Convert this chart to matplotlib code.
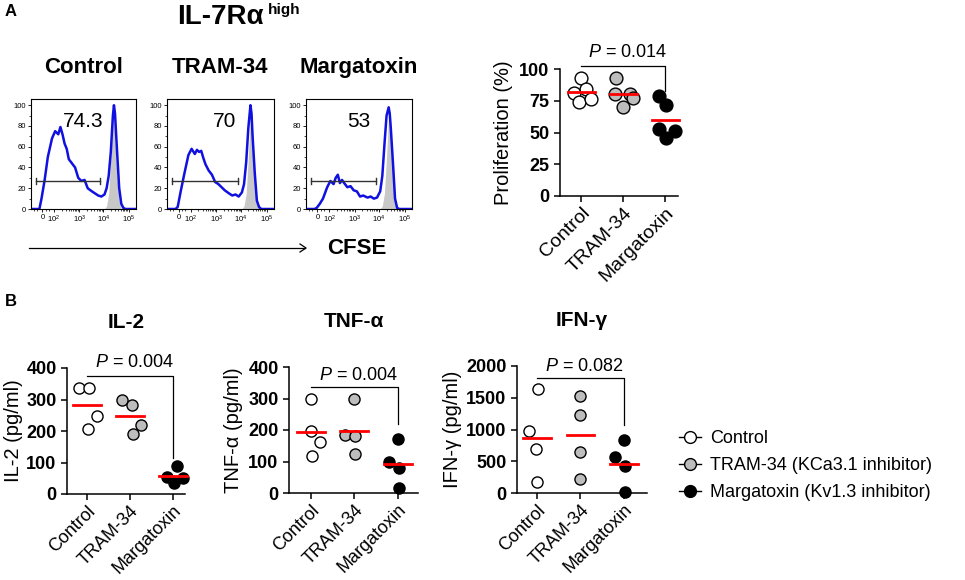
import numpy as np
import matplotlib
matplotlib.use('Agg')
from matplotlib import pyplot as plt
from matplotlib.lines import Line2D

plt.rcParams['font.family'] = ['Liberation Sans', 'DejaVu Sans']
plt.rcParams['mathtext.fontset'] = 'custom'
plt.rcParams['mathtext.rm'] = 'Liberation Sans'
plt.rcParams['mathtext.it'] = 'Liberation Sans:italic'
plt.rcParams['mathtext.bf'] = 'Liberation Sans:bold'

groups = ['Control', 'TRAM-34', 'Margatoxin']
legend_labels = ['Control', 'TRAM-34 (KCa3.1 inhibitor)', 'Margatoxin (Kv1.3 inhibitor)']
face_colors = ['white', '#bdbdbd', 'black']

# CFSE histograms: position on the display scale (0-100 across the plot), % of max
cfse_x = [0, 8, 10, 13, 16, 20, 23, 26, 28, 30, 32, 34, 36, 39, 42, 45, 48, 51, 54,
          58, 61, 64, 67, 70, 72, 74, 76, 78, 79, 80, 82, 84, 86, 88, 90, 100]
hist_control = [0, 0, 10, 28, 50, 68, 75, 72, 79, 72, 63, 58, 48, 44, 40, 30, 27, 28, 20,
                17, 15, 13, 12, 14, 20, 32, 55, 90, 100, 92, 55, 20, 5, 1, 0, 0]
hist_tram = [0, 0, 2, 18, 33, 52, 58, 53, 57, 55, 56, 49, 43, 37, 33, 26, 24, 21, 18,
             15, 13, 14, 12, 16, 24, 45, 78, 100, 92, 70, 35, 8, 2, 0, 0, 0]
hist_marga = [0, 0, 1, 5, 10, 21, 27, 24, 30, 33, 25, 28, 25, 21, 22, 18, 17, 12, 13,
              11, 12, 10, 11, 17, 32, 62, 90, 98, 92, 78, 45, 10, 1, 0, 0, 0]
hist_unstained = [0, 0, 0, 0, 0, 0, 0, 0, 0, 0, 0, 0, 0, 0, 0, 0, 0, 0, 0,
                  0, 0, 0, 0, 0, 3, 15, 50, 92, 85, 65, 30, 8, 1, 0, 0, 0]
gate_pct = ['74.3', '70', '53']
cfse_tick_labels = ['0', r'$10^2$', r'$10^3$', r'$10^4$', r'$10^5$']

# proliferation (%)
prolif_control = [93, 81, 84, 74, 76]
prolif_tram = [93, 80, 80, 70, 77]
prolif_marga = [79, 72, 53, 51, 46]

# cytokines (pg/ml)
il2_control = [336, 336, 249, 205]
il2_tram = [297, 283, 218, 189]
il2_marga = [88, 55, 35, 50]
tnf_control = [300, 198, 163, 119]
tnf_tram = [300, 185, 180, 125]
tnf_marga = [172, 100, 80, 15]
ifn_control = [1636, 971, 686, 171]
ifn_tram = [1532, 1231, 649, 223]
ifn_marga = [831, 561, 430, 10]

W, H = 965, 580
fig = plt.figure(figsize=(W / 100, H / 100), dpi=100)


def add_ax(left, top, right, bottom):
    return fig.add_axes([left / W, 1 - bottom / H, (right - left) / W, (bottom - top) / H])


def ftext(x, y, s, **kw):
    fig.text(x / W, 1 - y / H, s, **kw)


# ---- panel A: histograms
hists = [hist_control, hist_tram, hist_marga]
boxes = [(31, 136), (167, 274), (306, 412)]
minor_x = [3, 6, 14, 17]
for dec in [22, 46, 69]:
    minor_x += [dec + 23.5 * np.log10(k) for k in range(2, 10)]
for i, (l, r) in enumerate(boxes):
    ax = add_ax(l, 99, r, 209)
    ax.fill_between(cfse_x, hist_unstained, color='#c8c8c8', lw=0)
    ax.plot(cfse_x, hists[i], color='#1010e0', lw=1.8)
    ax.plot([4.5, 66], [27, 27], color='#333333', lw=1)
    ax.plot([4.5, 4.5], [24, 30], color='#333333', lw=1)
    ax.plot([66, 66], [24, 30], color='#333333', lw=1)
    ax.text(50 if i != 1 else 54, 84, gate_pct[i], ha='center', va='center', fontsize=15)
    ax.set_xlim(0, 100)
    ax.set_ylim(0, 106)
    ax.set_yticks([0, 20, 40, 60, 80, 100])
    ax.set_yticks([10, 30, 50, 70, 90], minor=True)
    ax.set_xticks([10.8, 22, 46, 69, 93])
    ax.set_xticklabels(cfse_tick_labels)
    ax.set_xticks(minor_x, minor=True)
    ax.tick_params(labelsize=5.5, length=2, width=0.6, pad=1.5)
    ax.tick_params(which='minor', length=1.2, width=0.5)
    for s in ax.spines.values():
        s.set_linewidth(0.8)
    ax.set_title(groups[i], fontsize=16, fontweight='bold', pad=19)

ftext(5, 12, 'A', fontsize=12, fontweight='bold', va='center')
ftext(177, 24, 'IL-7R\u03b1', fontsize=20, fontweight='bold', va='baseline')
ftext(268, 14, 'high', fontsize=11, fontweight='bold', va='baseline')
fig.add_artist(plt.Line2D([29 / W, 305 / W], [1 - 248 / H, 1 - 248 / H], color='black', lw=0.9))
fig.add_artist(plt.Line2D([300 / W, 306 / W, 300 / W], [1 - 244 / H, 1 - 248 / H, 1 - 252 / H],
                          color='black', lw=0.9))
ftext(357, 248, 'CFSE', fontsize=16, fontweight='bold', ha='center', va='center')


# ---- dot plots
def dot_panel(ax, values, offsets, ymax, yticks, ylabel, xlim, bracket_y, drop_y,
              p_text, p_y, msize, ylab_x, xfs=13):
    for i, (vals, offs) in enumerate(zip(values, offsets)):
        ax.scatter(np.full(len(vals), i) + np.array(offs), vals, s=msize, c=face_colors[i],
                   edgecolors='black', linewidths=1, zorder=3, clip_on=False)
        m = np.mean(vals)
        ax.plot([i - 0.32, i + 0.32], [m, m], color='red', lw=2, zorder=4, clip_on=False)
    ax.plot([0, 2, 2], [bracket_y, bracket_y, drop_y], color='black', lw=0.9, clip_on=False)
    ax.text(1.1, p_y, p_text, ha='center', va='bottom', fontsize=13, clip_on=False)
    ax.set_ylim(0, ymax)
    ax.set_xlim(*xlim)
    ax.set_yticks(yticks)
    ax.set_xticks([0, 1, 2])
    ax.set_xticklabels(groups, rotation=45, ha='right', rotation_mode='anchor', fontsize=xfs)
    ax.tick_params(axis='y', labelsize=13, length=4, width=1.1)
    ax.tick_params(axis='x', length=4, width=1.1, pad=2)
    for lab in ax.get_yticklabels():
        lab.set_fontweight('bold')
    for s in ['top', 'right']:
        ax.spines[s].set_visible(False)
    for s in ['left', 'bottom']:
        ax.spines[s].set_linewidth(1.1)
    ax.set_ylabel(ylabel, fontsize=14.5)
    ax.yaxis.set_label_coords(ylab_x, 0.5)


ax = add_ax(560, 69, 678, 196)
dot_panel(ax, [prolif_control, prolif_tram, prolif_marga],
          [[0, -0.17, 0.12, -0.05, 0.23], [-0.17, -0.2, 0.16, 0, 0.23], [-0.16, 0.02, -0.15, 0.22, 0.02]],
          100, [0, 25, 50, 75, 100], 'Proliferation (%)', (-0.5, 2.3), 102.5, 83,
          r'$P$ = 0.014', 106, 85, -0.40, xfs=14)

ftext(5, 302, 'B', fontsize=12, fontweight='bold', va='center')

ax = add_ax(67, 368, 185, 494)
dot_panel(ax, [il2_control, il2_tram, il2_marga],
          [[-0.18, 0.05, 0.22, 0.01], [-0.18, 0.05, 0.26, 0.06], [0.1, -0.14, 0.02, 0.24]],
          400, [0, 100, 200, 300, 400], 'IL-2 (pg/ml)', (-0.47, 2.28), 374, 113,
          r'$P$ = 0.004', 392, 64, -0.37)
ax.set_title('IL-2', fontsize=15, fontweight='bold', pad=29)

ax = add_ax(289, 367, 418, 493)
dot_panel(ax, [tnf_control, tnf_tram, tnf_marga],
          [[0, 0, 0.22, 0.02], [0, -0.22, 0.02, 0.02], [0, -0.2, 0.02, 0.02]],
          400, [0, 100, 200, 300, 400], 'TNF-\u03b1 (pg/ml)', (-0.5, 2.46), 335, 219,
          r'$P$ = 0.004', 345, 64, -0.36)
ax.set_title('TNF-\u03b1', fontsize=15, fontweight='bold', pad=29)

ax = add_ax(517, 366, 647, 493)
dot_panel(ax, [ifn_control, ifn_tram, ifn_marga],
          [[0.02, -0.18, -0.02, 0], [0, 0, 0, 0], [0, -0.2, 0.02, 0.02]],
          2000, [0, 500, 1000, 1500, 2000], 'IFN-\u03b3 (pg/ml)', (-0.46, 2.53), 1808, 1065,
          r'$P$ = 0.082', 1860, 64, -0.42)
ax.set_title('IFN-\u03b3', fontsize=15, fontweight='bold', pad=29)

handles = [Line2D([], [], color='black', lw=1, marker='o', ms=8.5, mfc=c, mec='black')
           for c in face_colors]
fig.legend(handles, legend_labels, loc='upper left', bbox_to_anchor=(672 / W, 1 - 423 / H),
           frameon=False, fontsize=13, handlelength=1.2, handletextpad=0.5, labelspacing=0.55,
           borderaxespad=0)

fig.savefig('out.png', dpi=100)
